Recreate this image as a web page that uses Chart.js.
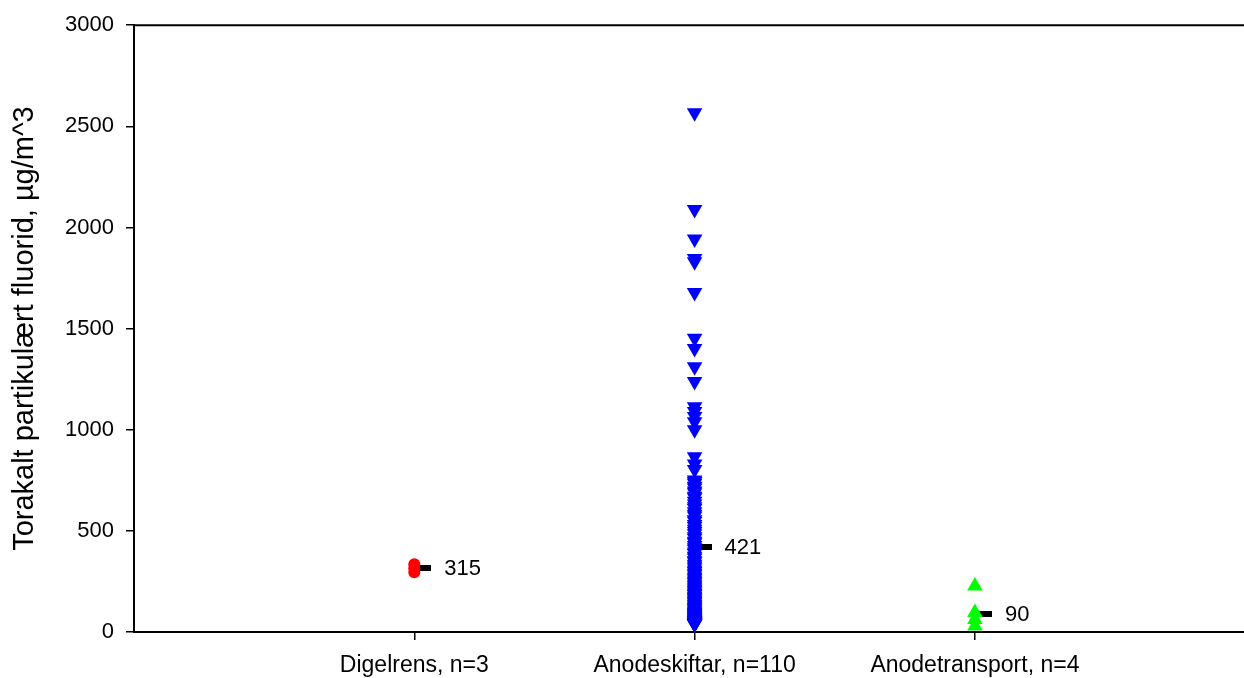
<!DOCTYPE html>
<html>
<head>
<meta charset="utf-8">
<script src="https://cdn.jsdelivr.net/npm/chart.js@4/dist/chart.umd.min.js"></script>
<style>
  html, body { margin: 0; padding: 0; background: #fff; }
  #wrap { width: 1244px; height: 678px; position: relative; }
</style>
</head>
<body>
<div id="wrap"><canvas id="chart"></canvas></div>
<script>
// Group labels along the x axis (positions 1, 2, 3)
const categories = ['Digelrens, n=3', 'Anodeskiftar, n=110', 'Anodetransport, n=4'];

// Measured concentrations, µg/m^3
const digelrens = [335, 315, 295];
const anodeskiftar = [
  2567, 2089, 1943, 1846, 1830, 1679, 1452, 1402, 1312, 1238,
  1114, 1090, 1066, 1040, 1000, 867, 830, 803,
  752, 744, 736, 721, 712, 697, 688, 671, 664, 646,
  633, 619, 611, 594, 582, 573, 555, 548, 531, 522,
  508, 497, 486, 471, 463, 449, 441, 428, 416, 409,
  395, 388, 374, 366, 352, 347, 335, 326, 318, 307,
  299, 291, 283, 272, 266, 257, 249, 243, 234, 228,
  219, 213, 205, 198, 192, 186, 177, 171, 165, 158,
  152, 147, 139, 134, 128, 121, 117, 110, 104, 99,
  97, 92, 86, 81, 77, 72, 68, 64, 61, 58,
  56, 54, 52, 50, 48, 46, 45, 43, 42, 41, 40, 39
];
const anodetransport = [228, 97, 62, 30];

// Group summary values shown next to each column
const groupMeans = [315, 421, 90];

// Y axis ticks
const yTicks = [0, 500, 1000, 1500, 2000, 2500, 3000];

const FONT = "'Liberation Sans', Arial, Helvetica, sans-serif";

function column(values, pos) {
  return values.map(v => ({ x: pos, y: v }));
}

// Short black dash, drawn to the right of the point it belongs to
const dash = document.createElement('canvas');
dash.width = 34; dash.height = 6;
(function () {
  const c = dash.getContext('2d');
  c.fillStyle = '#000';
  c.fillRect(18, 0, 16, 6);
})();

const meanLabels = {
  id: 'meanLabels',
  afterDatasetsDraw(chart) {
    const ctx = chart.ctx;
    const xs = chart.scales.x, ys = chart.scales.y;
    ctx.save();
    ctx.font = '22px ' + FONT;
    ctx.fillStyle = '#000';
    ctx.textAlign = 'left';
    ctx.textBaseline = 'middle';
    groupMeans.forEach((m, i) => {
      ctx.fillText(String(m), xs.getPixelForValue(i + 1) + 30, ys.getPixelForValue(m) + 1);
    });
    ctx.restore();
  }
};

const topLine = {
  id: 'topLine',
  afterDraw(chart) {
    const a = chart.chartArea, ctx = chart.ctx;
    ctx.save();
    ctx.strokeStyle = '#000';
    ctx.lineWidth = 2;
    ctx.beginPath();
    ctx.moveTo(a.left, a.top);
    ctx.lineTo(chart.width, a.top);
    ctx.stroke();
    ctx.restore();
  }
};

new Chart(document.getElementById('chart'), {
  type: 'scatter',
  data: {
    datasets: [
      {
        label: categories[0],
        data: column(digelrens, 1),
        pointStyle: 'circle',
        pointRadius: 6,
        pointBackgroundColor: '#ff0000',
        pointBorderWidth: 0,
        clip: false
      },
      {
        label: categories[1],
        data: column(anodeskiftar, 2),
        pointStyle: 'triangle',
        rotation: 180,
        pointRadius: 9,
        pointBackgroundColor: '#0000ff',
        pointBorderWidth: 0,
        clip: false
      },
      {
        label: categories[2],
        data: column(anodetransport, 3),
        pointStyle: 'triangle',
        rotation: 0,
        pointRadius: 9,
        pointBackgroundColor: '#00ff00',
        pointBorderWidth: 0,
        clip: false
      },
      {
        label: 'mean',
        data: groupMeans.map((m, i) => ({ x: i + 1, y: m })),
        pointStyle: dash,
        pointRadius: 17,
        clip: false
      }
    ]
  },
  options: {
    responsive: true,
    maintainAspectRatio: false,
    animation: false,
    layout: { autoPadding: false, padding: { top: 24, right: 0, left: 0, bottom: 0 } },
    plugins: {
      legend: { display: false },
      tooltip: { enabled: false }
    },
    scales: {
      x: {
        type: 'linear',
        min: 0,
        max: 3.96,
        afterBuildTicks(scale) {
          scale.ticks = categories.map((c, i) => ({ value: i + 1 }));
        },
        afterFit(scale) { scale.height = 46; },
        ticks: {
          callback: (v) => categories[v - 1] || '',
          color: '#000',
          font: { family: FONT, size: 23 },
          padding: 12,
          maxRotation: 0,
          autoSkip: false
        },
        grid: {
          drawOnChartArea: false,
          drawTicks: true,
          tickLength: 8,
          color: '#000',
          lineWidth: 1.5
        },
        border: { display: true, color: '#000', width: 2 }
      },
      y: {
        min: 0,
        max: 3000,
        afterBuildTicks(scale) {
          scale.ticks = yTicks.map(v => ({ value: v }));
        },
        afterFit(scale) { scale.width = 134; },
        ticks: {
          callback: (v) => String(v),
          color: '#000',
          font: { family: FONT, size: 22 },
          padding: 12
        },
        grid: {
          drawOnChartArea: false,
          drawTicks: true,
          tickLength: 8,
          color: '#000',
          lineWidth: 1.5
        },
        border: { display: true, color: '#000', width: 2 },
        title: {
          display: true,
          text: 'Torakalt partikulært fluorid, µg/m^3',
          color: '#000',
          font: { family: FONT, size: 29 },
          padding: { top: 8, bottom: 0 }
        }
      }
    }
  },
  plugins: [meanLabels, topLine]
});
</script>
</body>
</html>
